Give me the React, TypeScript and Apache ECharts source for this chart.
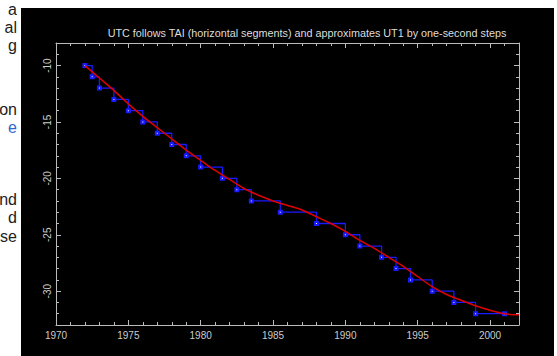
import React, { useEffect, useRef } from 'react';
import * as echarts from 'echarts';

const titleText = 'UTC follows TAI (horizontal segments) and approximates UT1 by one-second steps';

const majorYears = [1970, 1975, 1980, 1985, 1990, 1995, 2000];
const majorSeconds = [-30, -25, -20, -15, -10];

// UT1 - TAI (red curve), seconds
const ut1Years = [1972, 1973, 1974, 1975, 1976, 1977, 1978, 1979, 1980, 1981, 1982, 1983, 1984, 1985, 1986, 1987, 1988, 1989, 1990, 1991, 1992, 1993, 1994, 1995, 1996, 1997, 1998, 1999, 2000, 2001, 2002];
const ut1MinusTai = [-10.0, -11.1, -12.2, -13.4, -14.5, -15.5, -16.5, -17.5, -18.4, -19.3, -20.1, -20.9, -21.5, -22.0, -22.4, -22.8, -23.4, -24.0, -24.7, -25.5, -26.2, -27.0, -27.8, -28.7, -29.6, -30.3, -30.8, -31.3, -31.7, -32.0, -32.1];

// UTC - TAI (blue steps), seconds, value starting at each date
const stepDates = [1972.0, 1972.5, 1973.0, 1974.0, 1975.0, 1976.0, 1977.0, 1978.0, 1979.0, 1980.0, 1981.5, 1982.5, 1983.5, 1985.5, 1988.0, 1990.0, 1991.0, 1992.5, 1993.5, 1994.5, 1996.0, 1997.5, 1999.0, 2001.0];
const utcMinusTai = [-10, -11, -12, -13, -14, -15, -16, -17, -18, -19, -20, -21, -22, -23, -24, -25, -26, -27, -28, -29, -30, -31, -32, -32];

const sideLines = [
  { text: 'a', top: 1, link: false },
  { text: 'al', top: 19, link: false },
  { text: 'g', top: 37, link: false },
  { text: 'on', top: 101, link: false },
  { text: 'e', top: 119, link: true },
  { text: 'nd', top: 191, link: false },
  { text: 'd', top: 209, link: false },
  { text: 'se', top: 228, link: false },
];

const axisColor = '#bbbbbb';
const labelColor = '#cccccc';
const fontFamily = 'Liberation Sans, Arial, sans-serif';
const blue = '#1a1aff';
const red = '#e00000';

export default function App() {
  const ref = useRef<HTMLDivElement>(null);

  useEffect(() => {
    if (!ref.current) return;
    const chart = echarts.init(ref.current, undefined, { renderer: 'svg' });

    const ut1Data = ut1Years.map((y, i) => [y, ut1MinusTai[i]]);
    const stepData = stepDates.map((d, i) => [d, utcMinusTai[i]]);

    const baseX = (position: string, showLine: boolean, major: boolean, showLabel: boolean) => ({
      type: 'value',
      position,
      min: 1970,
      max: 2002,
      interval: 1,
      axisLine: { show: showLine, lineStyle: { color: axisColor, width: 1 } },
      axisTick: major
        ? { show: true, inside: true, length: 5, customValues: majorYears, lineStyle: { color: axisColor } }
        : { show: true, inside: true, length: 3, lineStyle: { color: axisColor } },
      axisLabel: showLabel
        ? {
            show: true,
            customValues: majorYears,
            formatter: (v: number) => String(v),
            color: labelColor,
            fontSize: 10,
            fontFamily,
            margin: 5,
          }
        : { show: false },
      splitLine: { show: false },
    });
    const baseY = (position: string, showLine: boolean, major: boolean, showLabel: boolean) => ({
      type: 'value',
      position,
      min: -33,
      max: -8,
      interval: 1,
      axisLine: { show: showLine, lineStyle: { color: axisColor, width: 1 } },
      axisTick: major
        ? { show: true, inside: true, length: 5, customValues: majorSeconds, lineStyle: { color: axisColor } }
        : { show: true, inside: true, length: 3, lineStyle: { color: axisColor } },
      axisLabel: showLabel
        ? {
            show: true,
            customValues: majorSeconds,
            formatter: (v: number) => String(v),
            color: labelColor,
            fontSize: 10,
            fontFamily,
            rotate: 90,
            margin: 4,
          }
        : { show: false },
      splitLine: { show: false },
    });

    chart.setOption({
      animation: false,
      backgroundColor: '#000000',
      grid: { left: 35, top: 35, width: 463, height: 282, containLabel: false },
      graphic: [
        {
          type: 'text',
          x: 286,
          y: 25,
          style: {
            text: titleText,
            fill: '#dddddd',
            font: `10.8px ${fontFamily}`,
            textAlign: 'center',
            textVerticalAlign: 'middle',
          },
        },
      ],
      xAxis: [
        baseX('bottom', true, false, false),
        baseX('bottom', false, true, true),
        baseX('top', true, false, false),
        baseX('top', false, true, false),
      ],
      yAxis: [
        baseY('left', true, false, false),
        baseY('left', false, true, true),
        baseY('right', true, false, false),
        baseY('right', false, true, false),
      ],
      series: [
        {
          name: 'UTC-TAI',
          type: 'line',
          xAxisIndex: 0,
          yAxisIndex: 0,
          step: 'end',
          data: stepData,
          showSymbol: true,
          symbol: 'emptyRect',
          symbolSize: 3,
          lineStyle: { color: blue, width: 1.3 },
          itemStyle: { color: blue, borderColor: blue },
          z: 2,
        },
        {
          name: 'UT1-TAI',
          type: 'line',
          xAxisIndex: 0,
          yAxisIndex: 0,
          smooth: 0.3,
          data: ut1Data,
          showSymbol: false,
          lineStyle: { color: red, width: 1.5 },
          itemStyle: { color: red },
          z: 3,
        },
      ],
    });

    return () => {
      chart.dispose();
    };
  }, []);

  return (
    <div style={{ position: 'absolute', left: 0, top: 0, width: 557, height: 356, background: '#ffffff', overflow: 'hidden' }}>
      <div style={{ position: 'absolute', left: 0, top: 0, width: 17, height: 356, overflow: 'hidden' }}>
        {sideLines.map((l, i) => (
          <div
            key={i}
            style={{
              position: 'absolute',
              right: 0,
              top: l.top,
              whiteSpace: 'nowrap',
              textAlign: 'right',
              font: `16px ${fontFamily}`,
              lineHeight: '18px',
              color: l.link ? '#3366cc' : '#202122',
            }}
          >
            {l.text}
          </div>
        ))}
      </div>
      <div ref={ref} style={{ position: 'absolute', left: 21, top: 8, width: 533, height: 348, background: '#000000' }} />
    </div>
  );
}
